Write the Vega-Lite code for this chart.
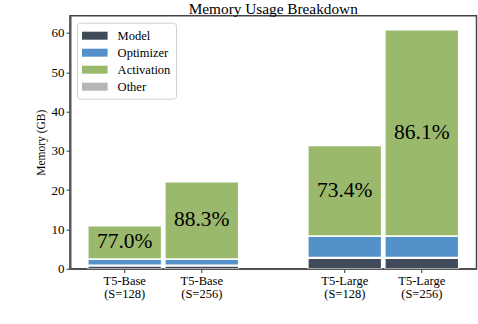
{
  "$schema": "https://vega.github.io/schema/vega-lite/v6.json",
  "width": 406.5,
  "height": 253,
  "autosize": {"type": "none"},
  "padding": {"left": 70, "top": 15.7, "right": 1.5, "bottom": 55.3},
  "background": "white",
  "title": {
    "text": "Memory Usage Breakdown",
    "font": "Liberation Serif, Times New Roman, Times, serif",
    "fontSize": 15.3,
    "fontWeight": "normal",
    "color": "black",
    "offset": 3,
    "dy": 4.5,
    "anchor": "middle"
  },
  "data": {
    "values": [
      {"model": "T5-Base", "seq": "S=128", "part": "Model", "value": 0.75, "pct": ""},
      {"model": "T5-Base", "seq": "S=128", "part": "Other", "value": 0.1, "pct": ""},
      {"model": "T5-Base", "seq": "S=128", "part": "Optimizer", "value": 1.6, "pct": ""},
      {"model": "T5-Base", "seq": "S=128", "part": "Activation", "value": 8.5, "pct": "77.0%"},
      {"model": "T5-Base", "seq": "S=256", "part": "Model", "value": 0.75, "pct": ""},
      {"model": "T5-Base", "seq": "S=256", "part": "Other", "value": 0.1, "pct": ""},
      {"model": "T5-Base", "seq": "S=256", "part": "Optimizer", "value": 1.6, "pct": ""},
      {"model": "T5-Base", "seq": "S=256", "part": "Activation", "value": 19.7, "pct": "88.3%"},
      {"model": "T5-Large", "seq": "S=128", "part": "Model", "value": 2.65, "pct": ""},
      {"model": "T5-Large", "seq": "S=128", "part": "Other", "value": 0.2, "pct": ""},
      {"model": "T5-Large", "seq": "S=128", "part": "Optimizer", "value": 5.45, "pct": ""},
      {"model": "T5-Large", "seq": "S=128", "part": "Activation", "value": 23.05, "pct": "73.4%"},
      {"model": "T5-Large", "seq": "S=256", "part": "Model", "value": 2.65, "pct": ""},
      {"model": "T5-Large", "seq": "S=256", "part": "Other", "value": 0.2, "pct": ""},
      {"model": "T5-Large", "seq": "S=256", "part": "Optimizer", "value": 5.45, "pct": ""},
      {"model": "T5-Large", "seq": "S=256", "part": "Activation", "value": 52.5, "pct": "86.1%"}
    ]
  },
  "transform": [
    {"calculate": "indexof(['Model','Other','Optimizer','Activation'], datum.part)", "as": "ord"},
    {"stack": "value", "groupby": ["model", "seq"], "sort": [{"field": "ord", "order": "ascending"}], "as": ["v0", "v1"]},
    {"calculate": "(datum.v0 + datum.v1) / 2", "as": "vmid"},
    {"calculate": "datum.model + '\\n(' + datum.seq + ')'", "as": "xlabel"}
  ],
  "encoding": {
    "x": {
      "field": "model",
      "type": "nominal",
      "scale": {"paddingInner": 0.3145, "paddingOuter": 0.081},
      "axis": {"labels": false, "ticks": false, "title": null, "domainColor": "#555555", "domainWidth": 1.5, "zindex": 1}
    },
    "xOffset": {
      "field": "seq",
      "type": "nominal",
      "scale": {"paddingInner": 0.042, "paddingOuter": 0}
    }
  },
  "layer": [
    {
      "transform": [{"filter": "datum.part === 'Model'"}],
      "mark": {"type": "rule", "color": "#333333", "strokeWidth": 1, "clip": false},
      "encoding": {
        "y": {"datum": 0, "type": "quantitative", "scale": {"domain": [0, 64.4]}},
        "y2": {"datum": -1.1}
      }
    },
    {
      "mark": {"type": "bar", "stroke": "white", "strokeWidth": 1.5},
      "encoding": {
        "y": {
          "field": "v0",
          "type": "quantitative",
          "scale": {"domain": [0, 64.4], "nice": false},
          "axis": {
            "title": "Memory (GB)",
            "titleFont": "Liberation Serif, Times New Roman, Times, serif",
            "titleFontSize": 11.5,
            "titleFontWeight": "normal",
            "titleColor": "black",
            "titlePadding": 5,
            "labelFont": "Liberation Serif, Times New Roman, Times, serif",
            "labelFontSize": 13,
            "labelColor": "black",
            "values": [0, 10, 20, 30, 40, 50, 60],
            "grid": false,
            "tickSize": 4,
            "tickColor": "#333333",
            "labelPadding": 2,
            "domainColor": "#555555",
            "domainWidth": 2,
            "zindex": 1
          }
        },
        "y2": {"field": "v1"},
        "color": {
          "field": "part",
          "type": "nominal",
          "scale": {
            "domain": ["Model", "Optimizer", "Activation", "Other"],
            "range": ["#404b59", "#5591c9", "#9bb96c", "#b5b5b5"]
          },
          "legend": {
            "orient": "top-left",
            "offset": 7,
            "title": null,
            "labelFont": "Liberation Serif, Times New Roman, Times, serif",
            "labelFontSize": 12.5,
            "labelColor": "black",
            "symbolType": "M-1,-0.5H2.2V0.5H-1Z",
            "symbolSize": 256,
            "symbolStrokeWidth": 0,
            "labelOffset": 19.6,
            "rowPadding": 2,
            "padding": 5,
            "strokeColor": "#d0d0d0",
            "cornerRadius": 3,
            "fillColor": "white"
          }
        }
      }
    },
    {
      "transform": [{"filter": "datum.part === 'Activation'"}],
      "mark": {"type": "text", "font": "Liberation Serif, Times New Roman, Times, serif", "fontSize": 21.5, "color": "black", "align": "center", "baseline": "middle"},
      "encoding": {
        "y": {"field": "vmid", "type": "quantitative"},
        "text": {"field": "pct"}
      }
    },
    {
      "transform": [{"filter": "datum.part === 'Model'"}],
      "mark": {"type": "text", "font": "Liberation Serif, Times New Roman, Times, serif", "fontSize": 12.5, "color": "black", "align": "center", "baseline": "top", "lineBreak": "\n", "lineHeight": 13, "dy": 6.5, "clip": false},
      "encoding": {
        "y": {"datum": 0, "type": "quantitative"},
        "text": {"field": "xlabel"}
      }
    }
  ],
  "config": {
    "view": {"stroke": "#444444", "strokeWidth": 1.5},
    "font": "Liberation Serif, Times New Roman, Times, serif"
  }
}
